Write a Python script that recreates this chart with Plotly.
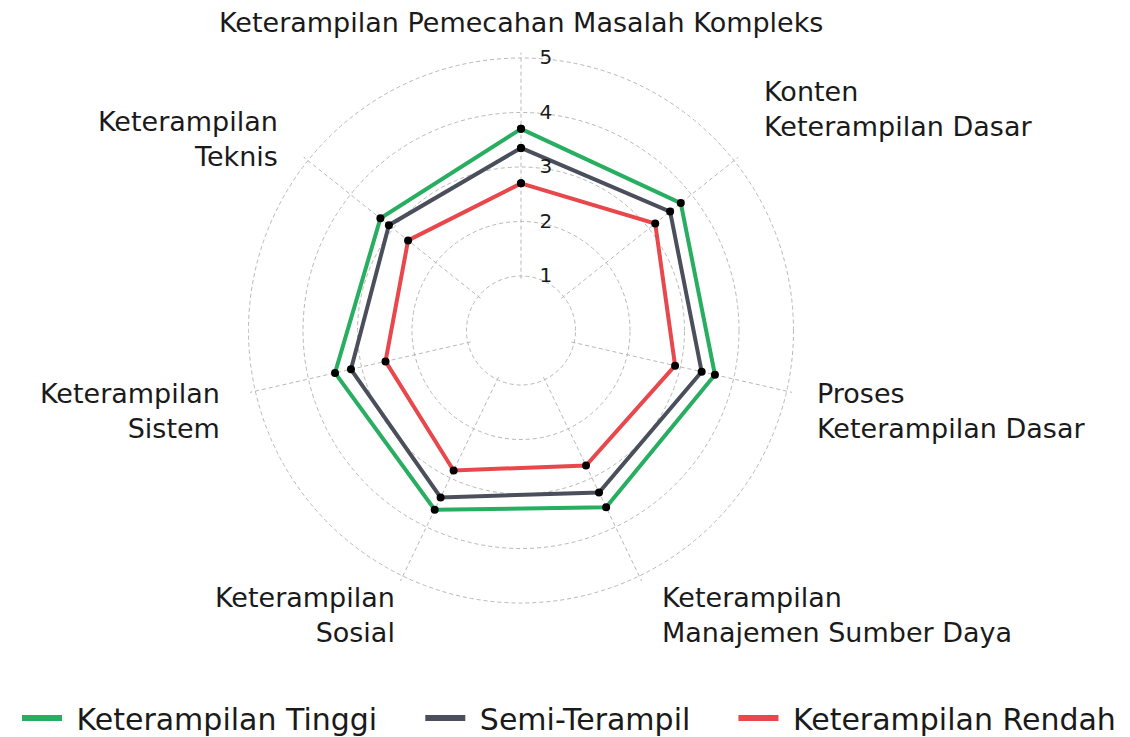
import plotly.graph_objects as go

categories = [
    "Keterampilan Pemecahan Masalah Kompleks",
    "Konten<br>Keterampilan Dasar",
    "Proses<br>Keterampilan Dasar",
    "Keterampilan<br>Manajemen Sumber Daya",
    "Keterampilan<br>Sosial",
    "Keterampilan<br>Sistem",
    "Keterampilan<br>Teknis",
]
series_names = ["Keterampilan Tinggi", "Semi-Terampil", "Keterampilan Rendah"]
tinggi = [3.7, 3.75, 3.65, 3.6, 3.65, 3.5, 3.3]
semi = [3.35, 3.5, 3.4, 3.3, 3.4, 3.2, 3.1]
rendah = [2.7, 3.15, 2.9, 2.75, 2.85, 2.55, 2.65]
colors = ["#27ae60", "#4a4f5b", "#e8474c"]
radial_ticks = [1, 2, 3, 4, 5]

# page body has an 8px margin; figure starts at screen (8, 8)
OFF = 8
W, H = 1130 - OFF, 737
font_family = "DejaVu Sans, sans-serif"
text_color = "#1a1a1a"
grid_color = "#b8b8b8"
grid_dash = "4px,3px"

# polar geometry (screen px): centre and pixels per radial unit
CX, CY, UNIT = 521, 330.5, 54.5
R_MIN, R_MAX = 0.95, 5.1
R_PX = R_MAX * UNIT

def sx(px):
    return (px - OFF) / W

def sy(py):
    return 1 - (py - OFF) / H

# label placement (layout only): screen pixel anchor, xanchor
label_layout = [
    (521, 22, "center"),
    (762, 109, "left"),
    (815, 411, "left"),
    (660, 615, "left"),
    (397, 615, "right"),
    (222, 411, "right"),
    (280, 139, "right"),
]

fig = go.Figure()
for name, vals, col in zip(series_names, [tinggi, semi, rendah], colors):
    fig.add_trace(go.Scatterpolar(
        r=vals + vals[:1],
        theta=categories + categories[:1],
        mode="lines+markers",
        name=name,
        showlegend=False,
        line=dict(color=col, width=4),
        marker=dict(color="black", size=8),
    ))
# legend-only entries (line symbol, no marker)
NB = "\u00a0"
for i, (name, col) in enumerate(zip(series_names, colors)):
    trail = NB * 4 if i < len(series_names) - 1 else ""
    fig.add_trace(go.Scatterpolar(
        r=[None], theta=[categories[0]],
        mode="lines",
        name=NB + name + trail,
        line=dict(color=col, width=6),
        showlegend=True,
    ))

annotations = []
for text, (px, py, xa) in zip(categories, label_layout):
    annotations.append(dict(
        text=text, x=sx(px), y=sy(py), xref="paper", yref="paper",
        xanchor=xa, yanchor="middle", align=xa,
        showarrow=False, font=dict(size=27, color=text_color, family=font_family),
    ))

fig.update_layout(
    width=W, height=H,
    margin=dict(l=0, r=0, t=0, b=0),
    paper_bgcolor="white",
    font=dict(family=font_family, size=22, color=text_color),
    annotations=annotations,
    polar=dict(
        domain=dict(x=[sx(CX - R_PX), sx(CX + R_PX)], y=[sy(CY + R_PX), sy(CY - R_PX)]),
        bgcolor="white",
        hole=R_MIN / R_MAX,
        radialaxis=dict(
            range=[R_MIN, R_MAX],
            tickvals=radial_ticks,
            angle=90,
            tickangle=90,
            showline=False,
            gridcolor=grid_color,
            griddash=grid_dash,
            gridwidth=1,
            tickfont=dict(size=20, color=text_color),
            ticks="outside",
            ticklen=14,
            tickcolor="rgba(0,0,0,0)",
        ),
        angularaxis=dict(
            direction="clockwise",
            rotation=90,
            showline=False,
            showticklabels=False,
            gridcolor=grid_color,
            griddash=grid_dash,
            gridwidth=1,
            ticks="",
        ),
    ),
    legend=dict(
        orientation="h",
        x=0.5, xanchor="center",
        y=sy(718), yanchor="middle",
        font=dict(size=30, color=text_color),
        itemwidth=40,
    ),
)

fig.write_html("out.html")
